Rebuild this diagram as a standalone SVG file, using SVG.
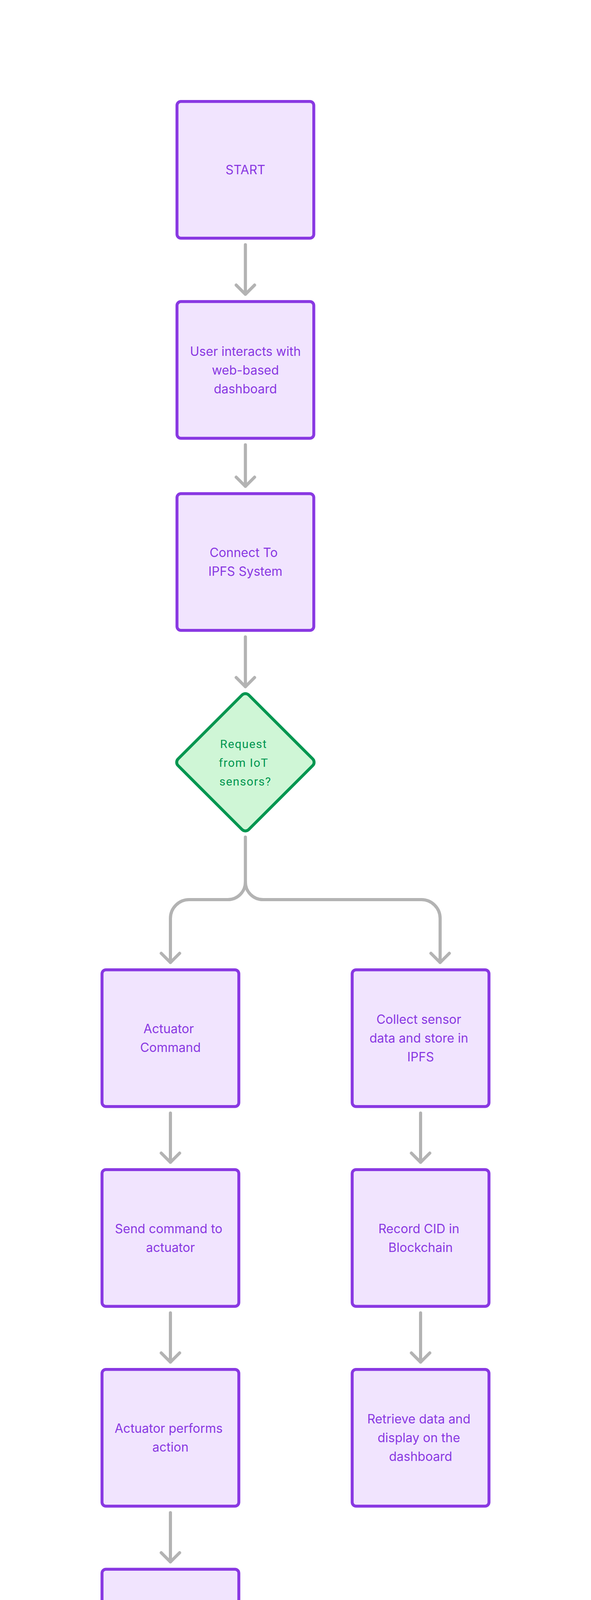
<svg xmlns="http://www.w3.org/2000/svg" width="1512" height="5652" viewBox="0 0 1512 5652">
<style>
.bg{fill:#ffffff}
.box{fill:#F1E4FE;stroke:#8938E2;stroke-width:7.5}
.dec{fill:#CFF6D6;stroke:#009650;stroke-width:7.5}
.t{font-family:Inter,"Liberation Sans",sans-serif;font-size:32px;fill:#8938E2;text-anchor:middle}
.g{font-family:Roboto,"Liberation Sans",sans-serif;font-size:30px;fill:#009650;text-anchor:middle;letter-spacing:1.6px}
.c{fill:none;stroke:#B3B3B3;stroke-width:8;stroke-linecap:round;stroke-linejoin:round}
</style>
<rect class="bg" x="0" y="0" width="1512" height="5652"/>
<g id="connectors">
<path class="c" d="M627.8,626.5 V753.3 M604.3,729.8 L627.8,753.3 L651.3,729.8"/>
<path class="c" d="M627.8,1138.8 V1245 M604.3,1221.5 L627.8,1245 L651.3,1221.5"/>
<path class="c" d="M627.8,1630.5 V1758 M604.3,1734.5 L627.8,1758 L651.3,1734.5"/>
<path class="c" d="M627.8,2143 V2258 A45,45 0 0 1 582.8,2303 H484 A48,48 0 0 0 436,2351 V2464 M412.5,2440.5 L436,2464 L459.5,2440.5"/>
<path class="c" d="M627.8,2258 A45,45 0 0 0 672.8,2303 H1078 A48,48 0 0 1 1126,2351 V2464 M1102.5,2440.5 L1126,2464 L1149.5,2440.5"/>
<path class="c" d="M436,2849.5 V2975.5 M412.5,2952 L436,2975.5 L459.5,2952"/>
<path class="c" d="M436,3361 V3487 M412.5,3463.5 L436,3487 L459.5,3463.5"/>
<path class="c" d="M436,3872.5 V3998.5 M412.5,3975 L436,3998.5 L459.5,3975"/>
<path class="c" d="M436,4384 V4510 M412.5,4486.5 L436,4510 L459.5,4486.5"/>
<path class="c" d="M436,4895.5 V5021.5 M412.5,4998 L436,5021.5 L459.5,4998"/>
<path class="c" d="M1076,2849.5 V2975.5 M1052.5,2952 L1076,2975.5 L1099.5,2952"/>
<path class="c" d="M1076,3361 V3487 M1052.5,3463.5 L1076,3487 L1099.5,3463.5"/>
</g>
<g id="start">
<rect class="box" x="452.8" y="259.75" width="350" height="350" rx="10"/>
<text class="t" x="627.8" y="446.4">START</text>
</g>
<g id="user">
<rect class="box" x="452.8" y="772.05" width="350" height="350" rx="10"/>
<text class="t" x="627.8" y="910.65">User interacts with</text>
<text class="t" x="627.8" y="958.65">web-based</text>
<text class="t" x="627.8" y="1006.65">dashboard</text>
</g>
<g id="connect">
<rect class="box" x="452.8" y="1263.75" width="350" height="350" rx="10"/>
<text class="t" x="623.3" y="1426.35">Connect To</text>
<text class="t" x="627.8" y="1474.35">IPFS System</text>
</g>
<g id="decision">
<rect class="dec" x="-127.8" y="-127.8" width="255.6" height="255.6" rx="12" transform="translate(627.8,1951.4) rotate(45)"/>
<text class="g" x="623.3" y="1915">Request</text>
<text class="g" x="623.3" y="1963">from IoT</text>
<text class="g" x="627.8" y="2011">sensors?</text>
</g>
<g id="actuator-command">
<rect class="box" x="261" y="2482.75" width="350" height="350" rx="10"/>
<text class="t" x="431.5" y="2645.35">Actuator</text>
<text class="t" x="436" y="2693.35">Command</text>
</g>
<g id="collect">
<rect class="box" x="901" y="2482.75" width="350" height="350" rx="10"/>
<text class="t" x="1071.5" y="2621.35">Collect sensor</text>
<text class="t" x="1071.5" y="2669.35">data and store in</text>
<text class="t" x="1076" y="2717.35">IPFS</text>
</g>
<g id="send-command">
<rect class="box" x="261" y="2994.25" width="350" height="350" rx="10"/>
<text class="t" x="431.5" y="3156.85">Send command to</text>
<text class="t" x="436" y="3204.85">actuator</text>
</g>
<g id="record-cid">
<rect class="box" x="901" y="2994.25" width="350" height="350" rx="10"/>
<text class="t" x="1071.5" y="3156.85">Record CID in</text>
<text class="t" x="1076" y="3204.85">Blockchain</text>
</g>
<g id="actuator-performs">
<rect class="box" x="261" y="3505.75" width="350" height="350" rx="10"/>
<text class="t" x="431.5" y="3668.35">Actuator performs</text>
<text class="t" x="436" y="3716.35">action</text>
</g>
<g id="retrieve">
<rect class="box" x="901" y="3505.75" width="350" height="350" rx="10"/>
<text class="t" x="1071.5" y="3644.35">Retrieve data and</text>
<text class="t" x="1071.5" y="3692.35">display on the</text>
<text class="t" x="1076" y="3740.35">dashboard</text>
</g>
<g id="record-command">
<rect class="box" x="261" y="4017.25" width="350" height="350" rx="10"/>
<text class="t" x="431.5" y="4179.85">Record command</text>
<text class="t" x="436" y="4227.85">in Blockchain</text>
</g>
<g id="send-confirmation">
<rect class="box" x="261" y="4528.75" width="350" height="350" rx="10"/>
<text class="t" x="431.5" y="4691.35">Send confirmation</text>
<text class="t" x="436" y="4739.35">to dashboard</text>
</g>
<g id="end">
<rect class="box" x="261" y="5040.25" width="350" height="350" rx="10"/>
<text class="t" x="436" y="5226.85">END</text>
</g>
</svg>
